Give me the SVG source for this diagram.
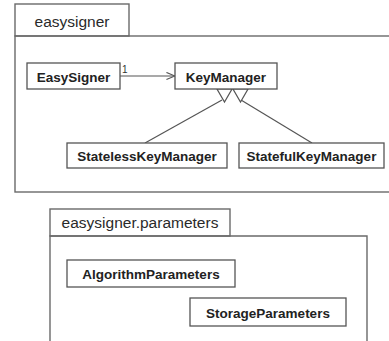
<svg xmlns="http://www.w3.org/2000/svg" width="389" height="341" viewBox="0 0 389 341">
<defs>
<style>
.pkg{fill:none;stroke:#6a6a6a;stroke-width:1.4}
.cls{fill:#fff;stroke:#555;stroke-width:1.3}
.ptxt{font-family:"Liberation Sans",Arial,sans-serif;font-size:15.5px;fill:#2a2a2a;text-anchor:middle}
.ctxt{font-family:"Liberation Sans",Arial,sans-serif;font-size:13.5px;font-weight:bold;fill:#222;text-anchor:middle}
.conn{fill:none;stroke:#555;stroke-width:1.2}
.tri{fill:#fff;stroke:#555;stroke-width:1.2}
</style>
<marker id="open" viewBox="0 0 10 10" refX="9.5" refY="5" markerWidth="9" markerHeight="9" markerUnits="userSpaceOnUse" orient="auto">
<path d="M0,1 L9.5,5 L0,9" fill="none" stroke="#555" stroke-width="1.2"/>
</marker>
</defs>
<rect width="389" height="341" fill="#fff"/>

<g id="pkg-easysigner">
<rect class="pkg" x="15" y="4" width="114" height="32"/>
<rect class="pkg" x="15" y="36" width="385" height="156"/>
<text class="ptxt" x="72" y="26.5">easysigner</text>
</g>

<g id="pkg-parameters">
<rect class="pkg" x="50" y="209" width="180" height="27"/>
<path class="pkg" d="M50,345 L50,236 L367,236 L367,345"/>
<text class="ptxt" x="140" y="228">easysigner.parameters</text>
</g>

<g id="connectors">
<line class="conn" x1="120" y1="76" x2="175" y2="76" marker-end="url(#open)"/>
<text x="122" y="73" font-family="Liberation Sans,Arial,sans-serif" font-size="10" fill="#333">1</text>
<line class="conn" x1="145" y1="143" x2="222" y2="100"/>
<line class="conn" x1="312" y1="143" x2="241" y2="100"/>
<polygon class="tri" points="217,89 232,89 224.5,102"/>
<polygon class="tri" points="233,89 248,89 240.5,102"/>
</g>

<g id="EasySigner">
<rect class="cls" x="27" y="63" width="93" height="26"/>
<text class="ctxt" x="73.5" y="81.5">EasySigner</text>
</g>

<g id="KeyManager">
<rect class="cls" x="175" y="63" width="102" height="26"/>
<text class="ctxt" x="226" y="81.5">KeyManager</text>
</g>

<g id="StatelessKeyManager">
<rect class="cls" x="67" y="143" width="160" height="25"/>
<text class="ctxt" x="147" y="160.5">StatelessKeyManager</text>
</g>

<g id="StatefulKeyManager">
<rect class="cls" x="239" y="143" width="145" height="25"/>
<text class="ctxt" x="311.5" y="160.5">StatefulKeyManager</text>
</g>

<g id="AlgorithmParameters">
<rect class="cls" x="67" y="260" width="168" height="27"/>
<text class="ctxt" x="151" y="279">AlgorithmParameters</text>
</g>

<g id="StorageParameters">
<rect class="cls" x="190" y="298" width="156" height="28"/>
<text class="ctxt" x="268" y="317.5">StorageParameters</text>
</g>
</svg>
